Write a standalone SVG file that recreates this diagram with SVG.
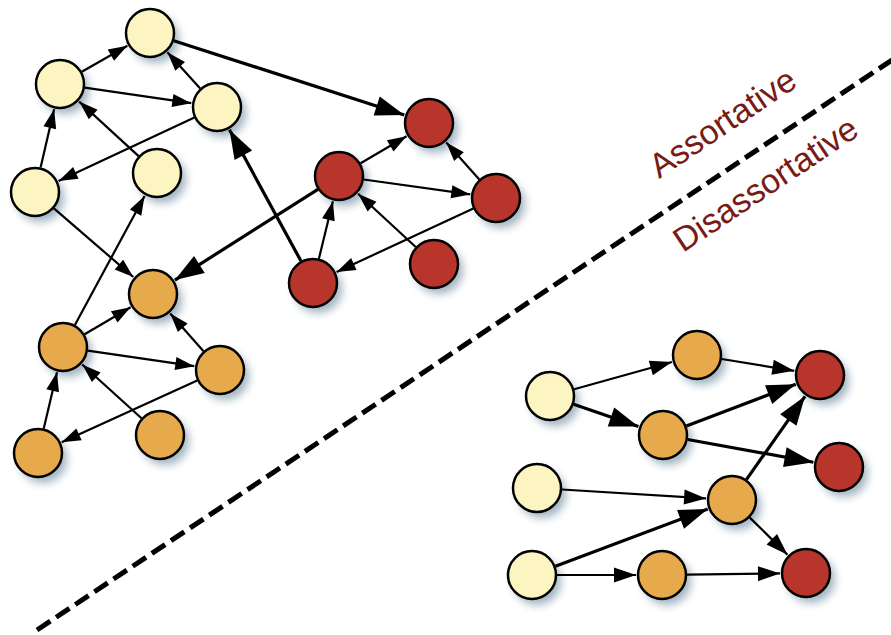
<svg xmlns="http://www.w3.org/2000/svg" width="891" height="635" viewBox="0 0 891 635">
<defs>
<filter id="blur" x="-50%" y="-50%" width="200%" height="200%"><feGaussianBlur stdDeviation="4"/></filter>
<marker id="ah" markerUnits="userSpaceOnUse" markerWidth="19" markerHeight="13" refX="19" refY="6.5" orient="auto" overflow="visible"><path d="M0,0 L19,6.5 L0,13 z" fill="#000"/></marker>
<marker id="ahM" markerUnits="userSpaceOnUse" markerWidth="22" markerHeight="15" refX="22" refY="7.5" orient="auto" overflow="visible"><path d="M0,0 L22,7.5 L0,15 z" fill="#000"/></marker>
<marker id="ahL" markerUnits="userSpaceOnUse" markerWidth="29" markerHeight="20" refX="29" refY="10" orient="auto" overflow="visible"><path d="M0,0 L29,10 L0,20 z" fill="#000"/></marker>
</defs>
<style>
.sh{fill:#55768f;opacity:0.55;filter:url(#blur)}
.n circle{stroke:#000;stroke-width:2.5}
.y circle{fill:#fcf5c2}
.o circle{fill:#e6a94c}
.r circle{fill:#b8352b}
.e{stroke:#000;stroke-width:2.2;fill:none;marker-end:url(#ah)}
.m{stroke:#000;stroke-width:2.2;fill:none;marker-end:url(#ahM)}
.t{stroke:#000;stroke-width:3.2;fill:none;marker-end:url(#ahL)}
.lbl{font-family:"Liberation Sans",Arial,sans-serif;font-size:34px;fill:#7a1a16}
</style>
<rect width="891" height="635" fill="#fff"/>
<g id="shadows">
<circle class="sh" cx="155" cy="39" r="24"/>
<circle class="sh" cx="65" cy="90" r="24"/>
<circle class="sh" cx="222" cy="113" r="24"/>
<circle class="sh" cx="40" cy="198" r="24"/>
<circle class="sh" cx="162" cy="179" r="24"/>
<circle class="sh" cx="434" cy="129" r="24"/>
<circle class="sh" cx="344" cy="182" r="24"/>
<circle class="sh" cx="501" cy="204" r="24"/>
<circle class="sh" cx="318" cy="289" r="24"/>
<circle class="sh" cx="439" cy="270" r="24"/>
<circle class="sh" cx="158" cy="300" r="24"/>
<circle class="sh" cx="68" cy="353" r="24"/>
<circle class="sh" cx="225" cy="376" r="24"/>
<circle class="sh" cx="43" cy="459" r="24"/>
<circle class="sh" cx="165" cy="441" r="24"/>
<circle class="sh" cx="555" cy="402" r="24"/>
<circle class="sh" cx="542" cy="494" r="24"/>
<circle class="sh" cx="537" cy="581" r="24"/>
<circle class="sh" cx="702" cy="361" r="24"/>
<circle class="sh" cx="668" cy="441" r="24"/>
<circle class="sh" cx="737" cy="506" r="24"/>
<circle class="sh" cx="667" cy="581" r="24"/>
<circle class="sh" cx="825" cy="381" r="24"/>
<circle class="sh" cx="844" cy="473" r="24"/>
<circle class="sh" cx="811" cy="579" r="24"/>
</g>
<g id="divider">
<line x1="37" y1="630" x2="895" y2="58" stroke="#000" stroke-width="5" stroke-dasharray="16 7"/>
<text class="lbl" transform="translate(659,179) rotate(-33.7)">Assortative</text>
<text class="lbl" transform="translate(683,253) rotate(-33.7)">Disassortative</text>
</g>
<g id="connectors">
<line class="e" x1="81.8" y1="71.7" x2="127.4" y2="45.8"/>
<line class="e" x1="84.7" y1="87.6" x2="191.3" y2="103.2"/>
<line class="e" x1="200.2" y1="88.5" x2="167.4" y2="52.3"/>
<line class="e" x1="40.6" y1="167.6" x2="54.1" y2="109.3"/>
<line class="e" x1="194.4" y1="117.6" x2="58.6" y2="181.0"/>
<line class="e" x1="138.6" y1="156.1" x2="79.2" y2="101.6"/>
<line class="t" x1="173.8" y1="40.7" x2="404.3" y2="115.0"/>
<line class="t" x1="301.0" y1="261.1" x2="229.5" y2="129.8"/>
<line class="t" x1="317.9" y1="189.4" x2="174.9" y2="280.1"/>
<line class="e" x1="53.9" y1="208.3" x2="133.3" y2="277.0"/>
<line class="e" x1="74.9" y1="325.0" x2="144.6" y2="195.9"/>
<line class="e" x1="84.6" y1="334.3" x2="130.6" y2="307.2"/>
<line class="e" x1="87.7" y1="350.6" x2="194.3" y2="366.2"/>
<line class="e" x1="203.5" y1="351.2" x2="170.2" y2="313.5"/>
<line class="e" x1="141.5" y1="418.2" x2="82.2" y2="364.5"/>
<line class="e" x1="43.7" y1="428.7" x2="57.0" y2="372.3"/>
<line class="e" x1="197.2" y1="380.4" x2="61.7" y2="442.2"/>
<line class="e" x1="360.6" y1="163.3" x2="406.6" y2="136.2"/>
<line class="e" x1="363.8" y1="179.5" x2="470.3" y2="194.4"/>
<line class="e" x1="479.3" y1="179.4" x2="446.3" y2="142.4"/>
<line class="e" x1="318.9" y1="258.7" x2="332.9" y2="201.3"/>
<line class="e" x1="415.7" y1="247.0" x2="358.1" y2="193.7"/>
<line class="e" x1="473.3" y1="208.5" x2="336.6" y2="272.0"/>
<line class="m" x1="574.1" y1="389.3" x2="672.0" y2="362.0"/>
<line class="t" x1="573.6" y1="404.2" x2="638.4" y2="426.5"/>
<line class="m" x1="721.7" y1="359.0" x2="794.3" y2="370.8"/>
<line class="t" x1="686.4" y1="426.1" x2="795.7" y2="384.3"/>
<line class="t" x1="687.6" y1="439.5" x2="813.4" y2="462.3"/>
<line class="t" x1="746.4" y1="479.6" x2="805.0" y2="396.3"/>
<line class="m" x1="562.0" y1="489.5" x2="706.1" y2="498.4"/>
<line class="t" x1="555.4" y1="566.2" x2="707.7" y2="509.1"/>
<line class="m" x1="749.8" y1="517.6" x2="787.5" y2="554.7"/>
<line class="m" x1="557" y1="575" x2="636" y2="575"/>
<line class="m" x1="687" y1="574.7" x2="780" y2="573.4"/>
</g>
<g id="Y1" class="n y"><circle cx="150" cy="33" r="24"/></g>
<g id="Y2" class="n y"><circle cx="60" cy="84" r="24"/></g>
<g id="Y3" class="n y"><circle cx="217" cy="107" r="24"/></g>
<g id="Y4" class="n y"><circle cx="35" cy="192" r="24"/></g>
<g id="Y5" class="n y"><circle cx="157" cy="173" r="24"/></g>
<g id="R1" class="n r"><circle cx="429" cy="123" r="24"/></g>
<g id="R2" class="n r"><circle cx="339" cy="176" r="24"/></g>
<g id="R3" class="n r"><circle cx="496" cy="198" r="24"/></g>
<g id="R4" class="n r"><circle cx="313" cy="283" r="24"/></g>
<g id="R5" class="n r"><circle cx="434" cy="264" r="24"/></g>
<g id="O1" class="n o"><circle cx="153" cy="294" r="24"/></g>
<g id="O2" class="n o"><circle cx="63" cy="347" r="24"/></g>
<g id="O3" class="n o"><circle cx="220" cy="370" r="24"/></g>
<g id="O4" class="n o"><circle cx="38" cy="453" r="24"/></g>
<g id="O5" class="n o"><circle cx="160" cy="435" r="24"/></g>
<g id="DY1" class="n y"><circle cx="550" cy="396" r="24"/></g>
<g id="DY2" class="n y"><circle cx="537" cy="488" r="24"/></g>
<g id="DY3" class="n y"><circle cx="532" cy="575" r="24"/></g>
<g id="DO1" class="n o"><circle cx="697" cy="355" r="24"/></g>
<g id="DO2" class="n o"><circle cx="663" cy="435" r="24"/></g>
<g id="DO3" class="n o"><circle cx="732" cy="500" r="24"/></g>
<g id="DO4" class="n o"><circle cx="662" cy="575" r="24"/></g>
<g id="DR1" class="n r"><circle cx="820" cy="375" r="24"/></g>
<g id="DR2" class="n r"><circle cx="839" cy="467" r="24"/></g>
<g id="DR3" class="n r"><circle cx="806" cy="573" r="24"/></g>
</svg>
